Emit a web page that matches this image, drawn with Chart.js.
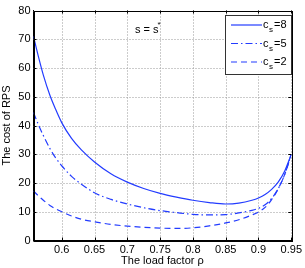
<!DOCTYPE html>
<html>
<head>
<meta charset="utf-8">
<script src="https://cdn.jsdelivr.net/npm/chart.js@4"></script>
<style>
  html, body { margin: 0; padding: 0; background: #fff; }
  #wrap { width: 305px; height: 268px; position: relative; }
</style>
</head>
<body>
<div id="wrap"><canvas id="mycanvas"></canvas></div>
<script>
// load factor rho
var rho = [0.557, 0.565, 0.572, 0.582, 0.59, 0.6, 0.615, 0.63, 0.65, 0.675, 0.7, 0.725, 0.75,
           0.775, 0.8, 0.825, 0.85, 0.87, 0.89, 0.9, 0.91, 0.92, 0.93, 0.94, 0.95];
var cost8 = [71, 63.5, 57.5, 50.5, 46, 41, 35.5, 31.5, 27.3, 23.2, 20.3, 18.1, 16.4,
             15.1, 14.0, 13.2, 12.7, 13.0, 14.0, 14.8, 16.0, 17.8, 20.3, 24.2, 30];
var cost5 = [44.5, 40, 36.5, 32, 29, 26, 22.3, 19.6, 16.6, 14.3, 12.7, 11.4, 10.4,
             9.7, 9.1, 8.9, 9.0, 9.6, 10.5, 11.2, 12.4, 14.6, 18, 23, 30];
var cost2 = [17.2, 15.4, 14.0, 12.2, 11.1, 10.0, 8.5, 7.4, 6.5, 5.6, 5.0, 4.6, 4.3,
             4.2, 4.4, 5.1, 6.1, 7.2, 8.9, 9.9, 11.5, 14.2, 18, 23, 30];
var seriesNames = ['8', '5', '2'];
var xTicks = [0.6, 0.65, 0.7, 0.75, 0.8, 0.85, 0.9, 0.95];
var yTicks = [0, 10, 20, 30, 40, 50, 60, 70, 80];

var blue = 'rgb(35,60,255)';
var dashes = [[], [7, 3, 1.5, 3], [6, 4]];

function pts(ys){
  return rho.map(function(x, i){ return {x: x, y: ys[i]}; });
}

Chart.defaults.font.family = "'Liberation Sans', Arial, sans-serif";
Chart.defaults.color = '#000';

// dotted grid under the curves
var dotGrid = {
  id: 'dotGrid',
  beforeDatasetsDraw: function(chart){
    var ctx = chart.ctx, a = chart.chartArea;
    var xs = chart.scales.x, ys = chart.scales.y;
    ctx.save();
    ctx.strokeStyle = '#999';
    ctx.lineWidth = 1;
    ctx.setLineDash([1, 2]);
    ctx.beginPath();
    xTicks.forEach(function(v){
      var px = Math.round(xs.getPixelForValue(v)) + 0.5;
      ctx.moveTo(px, a.top); ctx.lineTo(px, a.bottom);
    });
    yTicks.forEach(function(v){
      var py = Math.round(ys.getPixelForValue(v)) + 0.5;
      ctx.moveTo(a.left, py); ctx.lineTo(a.right, py);
    });
    ctx.stroke();
    ctx.restore();
  }
};

// box round the plot, inner ticks, legend and the s = s* note
var matlabBox = {
  id: 'matlabBox',
  afterDraw: function(chart){
    var ctx = chart.ctx, a = chart.chartArea;
    var xs = chart.scales.x, ys = chart.scales.y;
    ctx.save();
    ctx.strokeStyle = '#000';
    ctx.lineWidth = 1;
    ctx.strokeRect(Math.round(a.left) + 0.5, Math.round(a.top) + 0.5,
                   Math.round(a.right - a.left), Math.round(a.bottom - a.top));
    ctx.beginPath();
    xTicks.forEach(function(v){
      var px = Math.round(xs.getPixelForValue(v)) + 0.5;
      ctx.moveTo(px, a.bottom); ctx.lineTo(px, a.bottom - 3);
      ctx.moveTo(px, a.top); ctx.lineTo(px, a.top + 3);
    });
    yTicks.forEach(function(v){
      var py = Math.round(ys.getPixelForValue(v)) + 0.5;
      ctx.moveTo(a.left, py); ctx.lineTo(a.left + 3, py);
      ctx.moveTo(a.right, py); ctx.lineTo(a.right - 3, py);
    });
    ctx.stroke();

    // note
    ctx.fillStyle = '#000';
    ctx.font = "11px 'Liberation Sans', Arial, sans-serif";
    ctx.textBaseline = 'alphabetic';
    ctx.fillText('s = s', 135, 33);
    ctx.font = "8px 'Liberation Sans', Arial, sans-serif";
    ctx.fillText('*', 157.5, 27);

    // legend
    var lx = 225.5, ly = 15.5, lw = 66, lh = 59;
    ctx.fillStyle = '#fff';
    ctx.fillRect(lx, ly, lw, lh);
    ctx.strokeStyle = '#333';
    ctx.strokeRect(lx, ly, lw, lh);
    chart.data.datasets.forEach(function(ds, i){
      var y = 25 + i * 18.5;
      ctx.strokeStyle = ds.borderColor;
      ctx.lineWidth = 1.2;
      ctx.setLineDash(ds.borderDash || []);
      ctx.beginPath();
      ctx.moveTo(231, y); ctx.lineTo(262, y);
      ctx.stroke();
      ctx.setLineDash([]);
      ctx.fillStyle = '#000';
      ctx.font = "11px 'Liberation Sans', Arial, sans-serif";
      ctx.fillText('c', 263, y + 3);
      ctx.font = "8px 'Liberation Sans', Arial, sans-serif";
      ctx.fillText('s', 269, y + 7);
      ctx.font = "11px 'Liberation Sans', Arial, sans-serif";
      ctx.fillText('=' + seriesNames[i], 274, y + 3);
    });
    ctx.restore();
  }
};

var chardata = {
  datasets: [cost8, cost5, cost2].map(function(ys, i){
    return {
      label: 'c_s=' + seriesNames[i],
      data: pts(ys),
      borderColor: blue,
      backgroundColor: blue,
      borderWidth: 1.2,
      borderDash: dashes[i],
      pointRadius: 0,
      cubicInterpolationMode: 'monotone',
      fill: false
    };
  })
};

var ctx = document.getElementById('mycanvas');
var lineGraph = new Chart(ctx, {
  type: 'line',
  data: chardata,
  options: {
    responsive: true,
    maintainAspectRatio: false,
    animation: false,
    layout: { padding: { top: 10.5, right: 8.5, left: 0, bottom: 0 } },
    plugins: { legend: { display: false }, tooltip: { enabled: false } },
    scales: {
      x: {
        type: 'linear',
        min: 0.557,
        max: 0.95,
        afterBuildTicks: function(scale){
          scale.ticks = xTicks.map(function(v){ return {value: v}; });
        },
        afterFit: function(scale){ scale.height = 27.5; },
        ticks: {
          font: { size: 11 },
          padding: 3,
          maxRotation: 0,
          callback: function(v){ return String(v); }
        },
        grid: { display: false, drawTicks: false },
        border: { display: true, color: '#000' },
        title: { display: true, text: 'The load factor ρ', font: { size: 11 }, padding: { top: 0, bottom: 0 } }
      },
      y: {
        min: 0,
        max: 80,
        afterBuildTicks: function(scale){
          scale.ticks = yTicks.map(function(v){ return {value: v}; });
        },
        afterFit: function(scale){ scale.width = 33.5; },
        ticks: { font: { size: 11 }, padding: 3 },
        grid: { display: false, drawTicks: false },
        border: { display: true, color: '#000' },
        title: { display: true, text: 'The cost of RPS', font: { size: 11 }, padding: { top: 0, bottom: 0 } }
      }
    }
  },
  plugins: [dotGrid, matlabBox]
});
</script>
</body>
</html>
